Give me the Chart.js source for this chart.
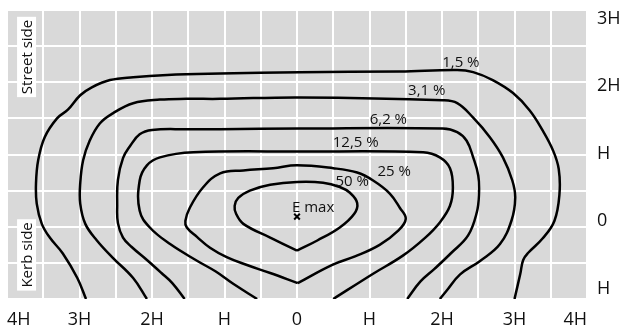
<!DOCTYPE html>
<html><head><meta charset="utf-8">
<script src="https://cdn.jsdelivr.net/npm/chart.js@4"></script>
<style>html,body{margin:0;padding:0;background:#fff}canvas{display:block}</style>
</head><body>
<canvas id="c" width="626" height="333"></canvas>
<script>
// Tick labels (distances in multiples of mounting height H)
const xTickLabels = {'-4':'4H','-3':'3H','-2':'2H','-1':'H','0':'0','1':'H','2':'2H','3':'3H','4':'4H'};
const yTickLabels = {'-1':'H','0':'0','1':'H','2':'2H','3':'3H'};

// Isolux contour names
const contourNames = ['1,5 %','3,1 %','6,2 %','12,5 %','25 %','50 %'];

// Contour points [x, y] in units of H
const c1_5 = [[-2.91,-1],[-3.03,-0.71],[-3.23,-0.37],[-3.41,-0.15],[-3.52,0.04],[-3.59,0.32],[-3.60,0.60],[-3.57,0.92],[-3.48,1.24],[-3.31,1.50],[-3.16,1.62],[-2.99,1.82],[-2.83,1.93],[-2.58,2.03],[-2.26,2.07],[-1.79,2.10],[-1.06,2.12],[0.04,2.14],[1.42,2.15],[2.21,2.17],[2.43,2.14],[2.70,2.03],[2.98,1.85],[3.21,1.61],[3.39,1.33],[3.53,1.06],[3.61,0.80],[3.62,0.45],[3.55,0.08],[3.39,-0.16],[3.19,-0.36],[3.12,-0.46],[3.08,-0.65],[3.00,-1]];
const c3_1 = [[-2.07,-1],[-2.26,-0.71],[-2.54,-0.43],[-2.76,-0.19],[-2.92,0.04],[-2.99,0.32],[-2.99,0.60],[-2.95,0.92],[-2.86,1.19],[-2.72,1.43],[-2.54,1.57],[-2.26,1.71],[-1.89,1.76],[-1.52,1.77],[-1.06,1.77],[0.04,1.79],[2.01,1.75],[2.21,1.71],[2.43,1.51],[2.66,1.24],[2.84,0.96],[2.97,0.64],[3.01,0.40],[2.96,0.09],[2.80,-0.24],[2.53,-0.47],[2.25,-0.66],[2.06,-0.89],[1.97,-1]];
const c6_2 = [[-1.55,-1],[-1.72,-0.78],[-1.87,-0.64],[-2.07,-0.46],[-2.28,-0.28],[-2.40,-0.15],[-2.47,0.05],[-2.48,0.30],[-2.47,0.65],[-2.40,0.95],[-2.30,1.12],[-2.17,1.28],[-2.00,1.34],[-1.52,1.35],[-1.06,1.35],[0.04,1.36],[2.01,1.36],[2.21,1.31],[2.34,1.19],[2.43,0.96],[2.50,0.71],[2.51,0.45],[2.48,0.20],[2.36,-0.12],[2.13,-0.36],[1.90,-0.58],[1.70,-0.76],[1.52,-1]];
const c12_5 = [[-0.55,-1],[-0.88,-0.79],[-1.12,-0.62],[-1.38,-0.47],[-1.75,-0.24],[-2.03,-0.01],[-2.17,0.22],[-2.17,0.64],[-2.07,0.85],[-1.89,0.96],[-1.43,1.03],[0.04,1.04],[1.74,1.03],[1.97,0.96],[2.11,0.81],[2.15,0.54],[2.11,0.29],[1.97,0.06],[1.77,-0.15],[1.46,-0.40],[1.05,-0.65],[0.50,-1]];
const c25 = [[0.01,-0.78],[-0.37,-0.64],[-0.69,-0.53],[-0.97,-0.42],[-1.20,-0.29],[-1.38,-0.14],[-1.52,-0.01],[-1.54,0.08],[-1.48,0.26],[-1.30,0.54],[-1.06,0.74],[-0.74,0.78],[-0.33,0.81],[0,0.85],[0.50,0.81],[0.83,0.75],[1.05,0.64],[1.28,0.46],[1.42,0.26],[1.50,0.11],[1.40,-0.05],[1.14,-0.25],[0.80,-0.41],[0.48,-0.53],[0.01,-0.78]];
const c50 = [[0,-0.33],[-0.37,-0.15],[-0.74,0.04],[-0.84,0.18],[-0.86,0.29],[-0.81,0.40],[-0.65,0.50],[-0.37,0.58],[0,0.62],[0.36,0.61],[0.59,0.55],[0.73,0.47],[0.83,0.33],[0.79,0.18],[0.59,-0.01],[0.28,-0.19],[0,-0.33]];
const contours = [c1_5, c3_1, c6_2, c12_5, c25, c50];

// Maximum illuminance point
const emaxName = 'E max';
const emaxPoint = [0, 0.14];

// Annotation anchors (data units)
const contourLabelAt = [[2.26,2.27],[1.79,1.88],[1.26,1.48],[0.81,1.16],[1.34,0.76],[0.76,0.62]];
const emaxLabelAt = [-0.07, 0.27];
const sideLabels = ['Street side', 'Kerb side'];
const sideLabelAt = [[-3.73, 2.35], [-3.73, -0.39]];

const TEXT = '#111';
const FONT = '"Open Sans", "Noto Sans", sans-serif';

const decor = {
  id: 'decor',
  beforeDraw(chart) {
    const {ctx, chartArea: a} = chart;
    ctx.save();
    ctx.fillStyle = '#d9d9d9';
    ctx.fillRect(a.left, a.top, a.right - a.left, a.bottom - a.top);
    ctx.restore();
  },
  afterDatasetsDraw(chart) {
    const {ctx, scales: {x, y}} = chart;
    ctx.save();
    ctx.fillStyle = TEXT;
    ctx.font = '15px ' + FONT;
    ctx.textAlign = 'center';
    ctx.textBaseline = 'middle';
    contourNames.forEach((t, i) => {
      ctx.fillText(t, x.getPixelForValue(contourLabelAt[i][0]), y.getPixelForValue(contourLabelAt[i][1]));
    });
    ctx.textAlign = 'left';
    ctx.fillText(emaxName, x.getPixelForValue(emaxLabelAt[0]), y.getPixelForValue(emaxLabelAt[1]));
    sideLabels.forEach((t, i) => {
      const px = x.getPixelForValue(sideLabelAt[i][0]);
      const py = y.getPixelForValue(sideLabelAt[i][1]);
      ctx.save();
      ctx.translate(px, py);
      ctx.rotate(-Math.PI / 2);
      ctx.font = '15px ' + FONT;
      const w = ctx.measureText(t).width;
      ctx.fillStyle = '#fff';
      ctx.fillRect(-w / 2 - 3, -9.5, w + 6, 19);
      ctx.fillStyle = TEXT;
      ctx.textAlign = 'center';
      ctx.textBaseline = 'middle';
      ctx.fillText(t, 0, 1);
      ctx.restore();
    });
    ctx.restore();
  }
};

const datasets = contours.map((pts, i) => ({
  label: contourNames[i],
  data: pts.map(([px, py]) => ({x: px, y: py})),
  showLine: true,
  borderColor: '#000',
  borderWidth: 2.5,
  pointRadius: 0,
  tension: 0.4,
  fill: false
}));
datasets.push({
  label: emaxName,
  data: [{x: emaxPoint[0], y: emaxPoint[1]}],
  showLine: false,
  pointStyle: 'crossRot',
  pointRadius: 4,
  borderColor: '#000',
  borderWidth: 2
});

new Chart(document.getElementById('c'), {
  type: 'scatter',
  data: {datasets},
  plugins: [decor],
  options: {
    responsive: false,
    devicePixelRatio: 1,
    animation: false,
    layout: {padding: {left: 7, top: 10, right: 0, bottom: 0}},
    plugins: {legend: {display: false}, tooltip: {enabled: false}},
    scales: {
      x: {
        type: 'linear', position: 'bottom', min: -4, max: 4,
        grid: {color: '#fff', lineWidth: 2, drawTicks: false},
        border: {display: false},
        ticks: {
          stepSize: 0.5, autoSkip: false, maxRotation: 0, align: 'inner', padding: 10,
          color: TEXT, font: {family: FONT, size: 18},
          callback: v => (Number.isInteger(v) ? xTickLabels[String(v)] : '')
        },
        afterFit(s) { s.height = 34; s.paddingLeft = 0; s.paddingRight = 0; }
      },
      y: {
        type: 'linear', position: 'left', min: -1, max: 3,
        grid: {color: '#fff', lineWidth: 2, drawTicks: false},
        border: {display: false},
        ticks: {stepSize: 0.5, display: false},
        afterFit(s) { s.width = 0; s.paddingTop = 0; s.paddingBottom = 0; }
      },
      yLab: {
        type: 'linear', position: 'right', min: -1.148, max: 3.126,
        grid: {display: false, drawTicks: false},
        border: {display: false},
        ticks: {
          stepSize: 1, includeBounds: false, padding: 10,
          color: TEXT, font: {family: FONT, size: 18},
          callback: v => (Number.isInteger(v) ? yTickLabels[String(v)] : '')
        },
        afterFit(s) { s.width = 39; s.paddingTop = 0; s.paddingBottom = 0; }
      }
    }
  }
});
</script>
</body></html>
